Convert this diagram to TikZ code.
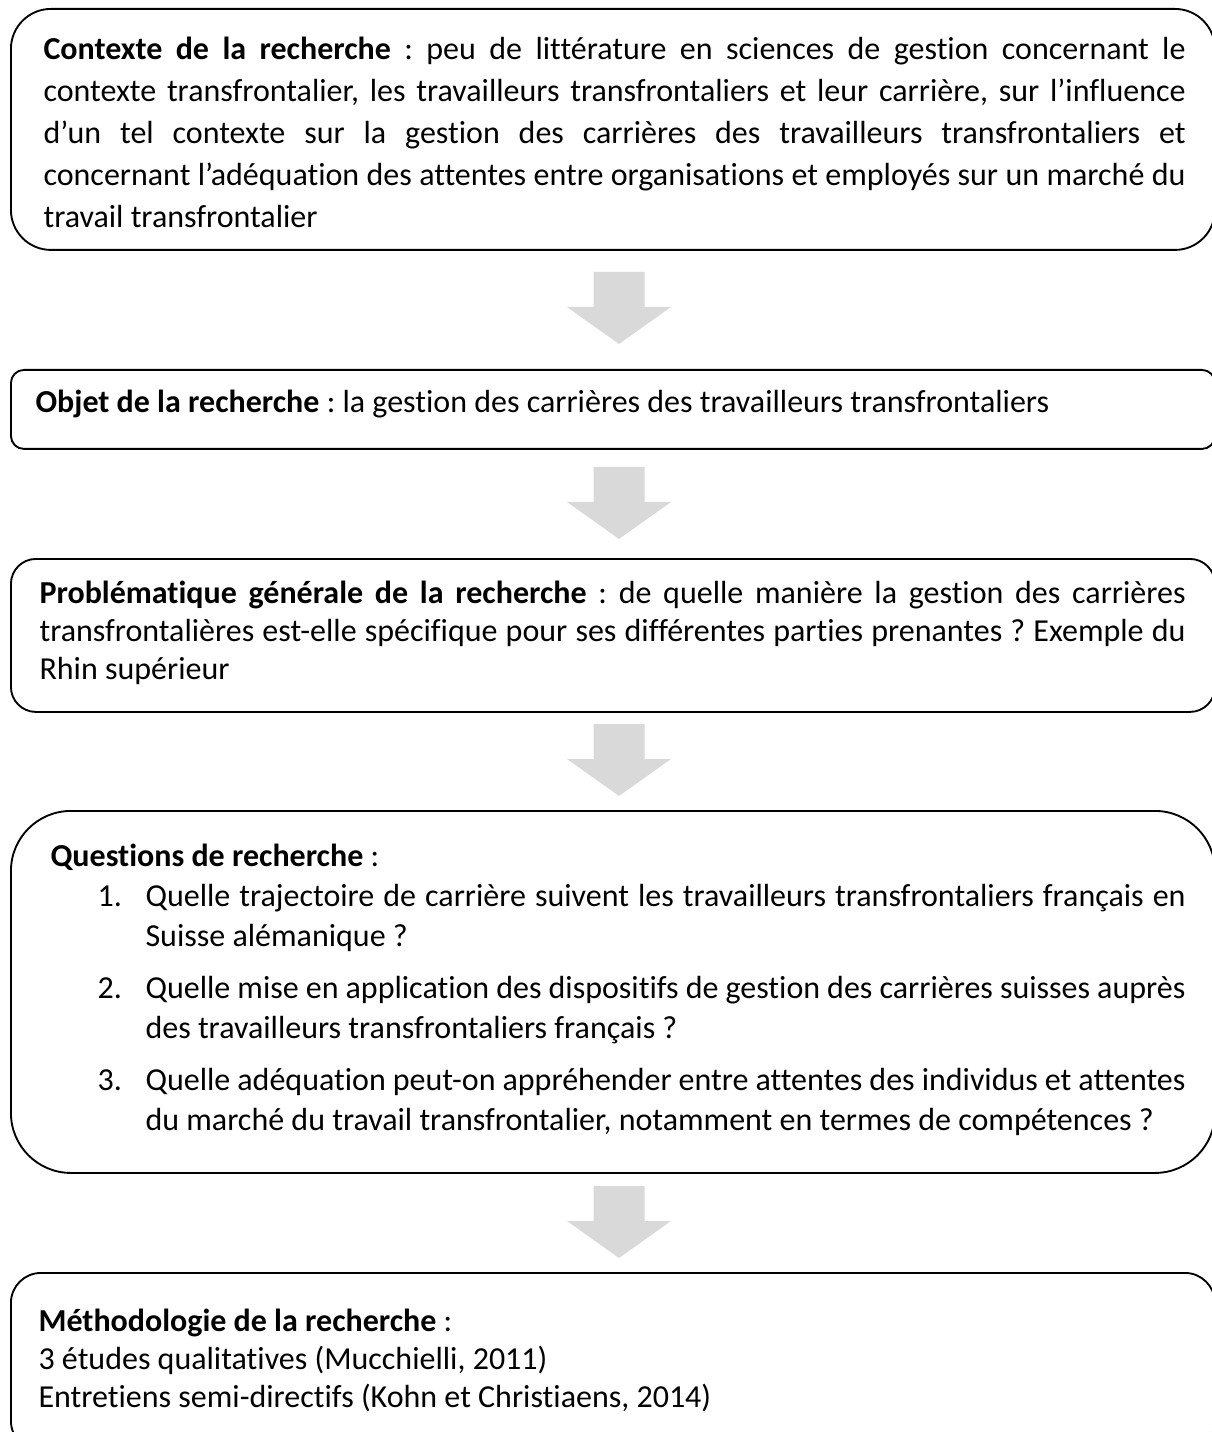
\documentclass[tikz,border=0pt]{standalone}
\usepackage{fontspec}
\setmainfont{Carlito}[Ligatures=NoCommon]
\usetikzlibrary{positioning}

\newlength{\pxu}
\setlength{\pxu}{0.375pt}
\definecolor{grisfleche}{RGB}{217,217,217}
\frenchspacing

% un item numerote de la liste des questions
\newcommand{\qitem}[2]{\par{\leftskip=47\pxu\hangindent=48\pxu\hangafter=1\noindent\makebox[48\pxu][l]{#1}#2\par}}

\begin{document}
\begin{tikzpicture}[x=0.375pt, y=-0.375pt,
    cadre/.style={draw, line width=0.7pt, anchor=north west, inner sep=0pt, minimum width=1204\pxu},
    texte/.style={anchor=base west, inner sep=0pt, align=justify},
    fleche/.pic={\fill[grisfleche] (-25.5,0) -- (25.5,0) -- (25.5,35) -- (52,35) -- (0,72) -- (-52,35) -- (-25.5,35) -- cycle;}]
  \useasboundingbox (0,0) rectangle (1211,1432);

  % cadres
  \node[cadre, minimum height=241\pxu, rounded corners=40\pxu] (contexte) at (10,8) {};
  \node[cadre, minimum height=79\pxu, rounded corners=13\pxu] (objet) at (10,369) {};
  \node[cadre, minimum height=153\pxu, rounded corners=25\pxu] (probleme) at (10,558) {};
  \node[cadre, minimum height=362\pxu, rounded corners=60\pxu] (questions) at (10,810) {};
  \node[cadre, minimum height=178\pxu, rounded corners=30\pxu] (methodo) at (10,1272) {};

  % textes
  \node[texte, text width=1142\pxu, font=\fontsize{12}{15.75}\selectfont] (contexte-txt) at (43,60)
    {\textbf{Contexte de la recherche} : peu de littérature en sciences de gestion concernant le\linebreak
     contexte transfrontalier, les travailleurs transfrontaliers et leur carrière, sur l’influence\linebreak
     d’un tel contexte sur la gestion des carrières des travailleurs transfrontaliers et\linebreak
     concernant l’adéquation des attentes entre organisations et employés sur un marché du\linebreak
     travail transfrontalier};
  \node[texte, font=\fontsize{12}{14.4}\selectfont] (objet-txt) at (35,413)
    {\textbf{Objet de la recherche} : la gestion des carrières des travailleurs transfrontaliers};
  \node[texte, text width=1146\pxu, font=\fontsize{12}{14.4}\selectfont] (probleme-txt) at (39,603)
    {\textbf{Problématique générale de la recherche} : de quelle manière la gestion des carrières\linebreak
     transfrontalières est-elle spécifique pour ses différentes parties prenantes~? Exemple du\linebreak
     Rhin supérieur};
  \node[texte, text width=1135\pxu, font=\fontsize{12}{15}\selectfont] (questions-txt) at (50,866)
    {\textbf{Questions de recherche} :
     \qitem{1.}{Quelle trajectoire de carrière suivent les travailleurs transfrontaliers français en\linebreak
       Suisse alémanique~?}
     \vspace{12\pxu}
     \qitem{2.}{Quelle mise en application des dispositifs de gestion des carrières suisses auprès\linebreak
       des travailleurs transfrontaliers français~?}
     \vspace{12\pxu}
     \qitem{3.}{Quelle adéquation peut-on appréhender entre attentes des individus et attentes\linebreak
       du marché du travail transfrontalier, notamment en termes de compétences~?}};
  \node[texte, text width=1150\pxu, font=\fontsize{12}{14.4}\selectfont] (methodo-txt) at (38,1331)
    {\textbf{Méthodologie de la recherche} :\par
     3 études qualitatives (Mucchielli, 2011)\par
     Entretiens semi-directifs (Kohn et Christiaens, 2014)};

  % fleches
  \pic at (619,272) {fleche};
  \pic at (619,467) {fleche};
  \pic at (619,724) {fleche};
  \pic at (619,1186) {fleche};
\end{tikzpicture}
\end{document}
